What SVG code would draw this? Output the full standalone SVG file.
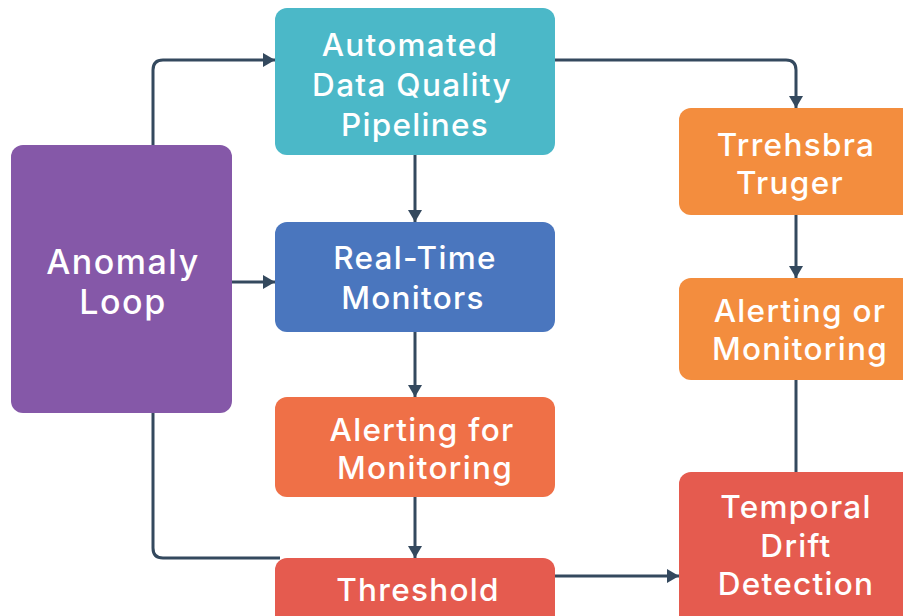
<svg xmlns="http://www.w3.org/2000/svg" width="903" height="616" viewBox="0 0 903 616">
<style>
.t{font-family:Inter,"Liberation Sans",sans-serif;font-weight:500;fill:#fff;text-anchor:middle;font-size:31.5px;letter-spacing:1.3px}
.c{fill:none;stroke:#34495E;stroke-width:3;stroke-linejoin:round}
</style>
<defs>
<marker id="a" viewBox="0 0 12 14" refX="12" refY="7" markerWidth="12" markerHeight="14" markerUnits="userSpaceOnUse" orient="auto"><path d="M0,0 L12,7 L0,14 z" fill="#34495E"/></marker>
</defs>
<rect width="903" height="616" fill="#fff"/>
<g id="connectors">
<path class="c" d="M153,145 V70 Q153,60 163,60 H275" marker-end="url(#a)"/>
<path class="c" d="M232,282 H275" marker-end="url(#a)"/>
<path class="c" d="M153,413 V548 Q153,558 163,558 H280"/>
<path class="c" d="M415,155 V222" marker-end="url(#a)"/>
<path class="c" d="M415,332 V397" marker-end="url(#a)"/>
<path class="c" d="M415,497 V558" marker-end="url(#a)"/>
<path class="c" d="M555,576 H679" marker-end="url(#a)"/>
<path class="c" d="M555,60 H786 Q796,60 796,70 V108" marker-end="url(#a)"/>
<path class="c" d="M796,215 V278" marker-end="url(#a)"/>
<path class="c" d="M796,380 V472"/>
</g>
<g id="anomaly">
<rect x="11" y="145" width="221" height="268" rx="12" fill="#8558A8"/>
<text class="t" x="123" y="274" style="font-size:34px;letter-spacing:1.5px">Anomaly</text>
<text class="t" x="123" y="314" style="font-size:34px;letter-spacing:1.5px">Loop</text>
</g>
<g id="pipelines">
<rect x="275" y="8" width="280" height="147" rx="12" fill="#4BB8C8"/>
<text class="t" x="410" y="56">Automated</text>
<text class="t" x="412" y="96">Data Quality</text>
<text class="t" x="415" y="136">Pipelines</text>
</g>
<g id="realtime">
<rect x="275" y="222" width="280" height="110" rx="12" fill="#4A76BE"/>
<text class="t" x="415" y="269">Real-Time</text>
<text class="t" x="413" y="309">Monitors</text>
</g>
<g id="alerting">
<rect x="275" y="397" width="280" height="100" rx="12" fill="#EF7047"/>
<text class="t" x="422" y="441">Alerting for</text>
<text class="t" x="425" y="479">Monitoring</text>
</g>
<g id="threshold">
<rect x="275" y="558" width="280" height="70" rx="12" fill="#E55B4F"/>
<text class="t" x="418" y="601">Threshold</text>
</g>
<g id="trigger">
<rect x="679" y="108" width="240" height="107" rx="12" fill="#F38D3E"/>
<text class="t" x="796" y="156">Trrehsbra</text>
<text class="t" x="790" y="194">Truger</text>
</g>
<g id="alerting2">
<rect x="679" y="278" width="240" height="102" rx="12" fill="#F38D3E"/>
<text class="t" x="800" y="322">Alerting or</text>
<text class="t" x="800" y="360">Monitoring</text>
</g>
<g id="temporal">
<rect x="679" y="472" width="240" height="160" rx="12" fill="#E55B4F"/>
<text class="t" x="796" y="518">Temporal</text>
<text class="t" x="796" y="557">Drift</text>
<text class="t" x="796" y="595">Detection</text>
</g>
</svg>
